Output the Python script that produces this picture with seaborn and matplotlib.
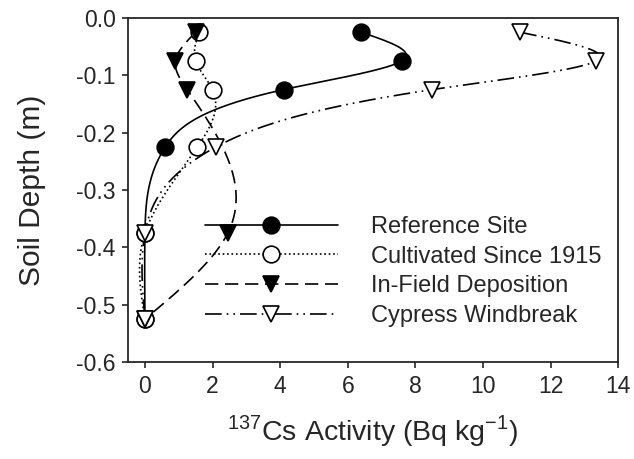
import numpy as np
import matplotlib
matplotlib.use("Agg")
import matplotlib.pyplot as plt
from matplotlib.lines import Line2D
import seaborn as sns

# depths (m) and 137Cs activity (Bq/kg) per site
depth = [-0.025, -0.075, -0.125, -0.225, -0.375, -0.525]
ref_site = [6.4, 7.6, 4.1, 0.6, 0.0, 0.0]
cultivated = [1.6, 1.5, 2.0, 1.55, 0.0, 0.0]
cypress = [11.1, 13.35, 8.5, 2.1, 0.0, 0.0]
infield_depth = [-0.025, -0.075, -0.125, -0.375, -0.525]
infield = [1.5, 0.9, 1.25, 2.45, 0.0]

labels = ["Reference Site", "Cultivated Since 1915", "In-Field Deposition", "Cypress Windbreak"]
xticks = [0, 2, 4, 6, 8, 10, 12, 14]
yticks = [-0.6, -0.5, -0.4, -0.3, -0.2, -0.1, 0.0]


def smooth(x, d, n=200):
    # natural cubic spline of activity vs depth, only for drawing the curve
    t = -np.asarray(d, float)
    x = np.asarray(x, float)
    k = len(t)
    h = np.diff(t)
    A = np.zeros((k, k))
    b = np.zeros(k)
    A[0, 0] = A[-1, -1] = 1
    for i in range(1, k - 1):
        A[i, i - 1] = h[i - 1]
        A[i, i] = 2 * (h[i - 1] + h[i])
        A[i, i + 1] = h[i]
        b[i] = 6 * ((x[i + 1] - x[i]) / h[i] - (x[i] - x[i - 1]) / h[i - 1])
    M = np.linalg.solve(A, b)
    tt = np.linspace(t[0], t[-1], n)
    j = np.clip(np.searchsorted(t, tt) - 1, 0, k - 2)
    a = t[j + 1] - tt
    c = tt - t[j]
    hj = h[j]
    xx = (M[j] * a ** 3 / (6 * hj) + M[j + 1] * c ** 3 / (6 * hj)
          + (x[j] / hj - M[j] * hj / 6) * a + (x[j + 1] / hj - M[j + 1] * hj / 6) * c)
    return xx, -tt


sns.set_style("ticks")
plt.rcParams["font.family"] = ["Liberation Sans", "DejaVu Sans"]
plt.rcParams["mathtext.fontset"] = "custom"
plt.rcParams["mathtext.rm"] = "Liberation Sans"
plt.rcParams["axes.unicode_minus"] = False

fig = plt.figure(figsize=(6.34, 4.59), dpi=100)
ax = fig.add_axes([0.202, 0.211, 0.773, 0.75])

series = [
    (ref_site, depth, "-", None, "o", "black"),
    (cultivated, depth, ":", None, "o", "white"),
    (infield, infield_depth, "--", (8, 4), "v", "black"),
    (cypress, depth, "-.", (10, 3, 1, 3, 1, 3), "v", "white"),
]

handles = []
for (xv, yv, ls, dash, mk, fc), lab in zip(series, labels):
    sx, sy = smooth(xv, yv)
    sns.lineplot(x=sx, y=sy, sort=False, estimator=None, ax=ax,
                 color="black", linewidth=1.2, linestyle=ls)
    if dash is not None:
        ax.lines[-1].set_dashes(dash)
    ax.plot(xv, yv, linestyle="none", marker=mk, markersize=12,
            markerfacecolor=fc, markeredgecolor="black", markeredgewidth=1.2, zorder=3)
    h = Line2D([], [], color="black", linewidth=1.2, linestyle=ls, marker=mk,
               markersize=12, markerfacecolor=fc, markeredgecolor="black", markeredgewidth=1.2)
    if dash is not None:
        h.set_dashes(dash)
    handles.append(h)

ax.set_xlim(-0.5, 14)
ax.set_ylim(-0.6, 0.0)
ax.set_xticks(xticks)
ax.set_yticks(yticks)
ax.set_yticklabels(["0.0" if v == 0 else "%.1f" % v for v in yticks])
ax.tick_params(labelsize=16.5, length=4, width=1.2, pad=5)
for s in ax.spines.values():
    s.set_visible(True)
    s.set_linewidth(1.3)

ax.set_xlabel(r"$^{137}$Cs Activity (Bq kg$^{-1}$)", fontsize=20.5, labelpad=11)
ax.set_ylabel("Soil Depth (m)", fontsize=21.5, labelpad=22)

ax.legend(handles, labels, loc="upper left", bbox_to_anchor=(0.157, 0.424),
          frameon=False, fontsize=17, handlelength=5.63, handletextpad=1.42,
          labelspacing=0.32, borderpad=0, borderaxespad=0)

fig.savefig("out.png", dpi=100)
